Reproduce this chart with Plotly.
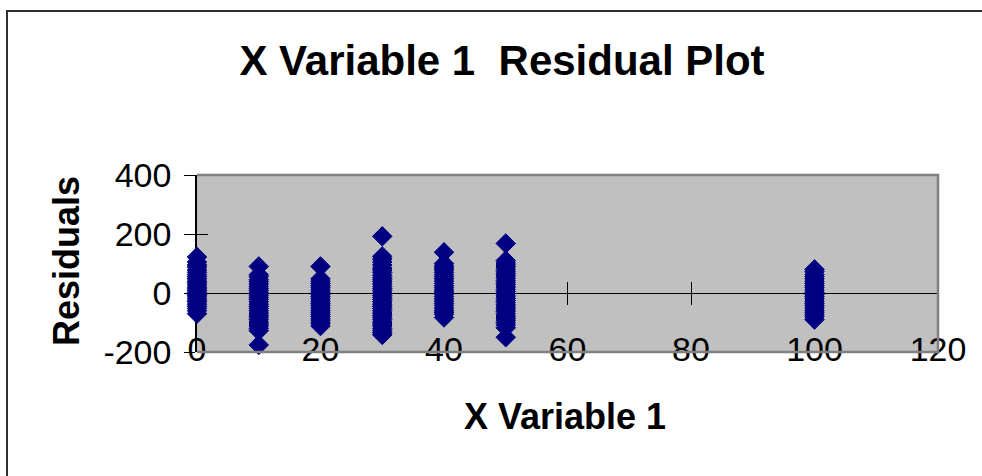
import plotly.graph_objects as go

# ---- data ----
x_levels = [0, 10, 20, 30, 40, 50, 100]
res_0 = [122, 105, 95, 88, 78, 70, 62, 55, 48, 40, 35, 28, 20, 14, 8, 2, -5, -10, -18, -25, -30, -38, -45, -52, -60, -70]
res_10 = [90, 62, 55, 45, 38, 30, 22, 15, 8, 0, -8, -15, -22, -30, -38, -45, -52, -60, -68, -75, -82, -90, -98, -105, -112, -120, -128, -176]
res_20 = [90, 48, 40, 32, 25, 18, 10, 3, -5, -12, -20, -28, -35, -42, -50, -58, -65, -72, -80, -88, -95, -103, -112]
res_30 = [192, 124, 115, 105, 95, 85, 78, 70, 60, 52, 45, 38, 30, 22, 15, 8, 0, -8, -15, -22, -30, -38, -45, -52, -60, -68, -75, -82, -90, -98, -105, -112, -120, -128, -135, -142]
res_40 = [138, 100, 92, 85, 78, 70, 62, 55, 48, 40, 32, 25, 18, 10, 3, -5, -12, -20, -28, -35, -42, -50, -58, -65, -72, -83]
res_50 = [168, 110, 102, 95, 88, 80, 72, 65, 58, 50, 42, 35, 28, 20, 12, 5, -2, -10, -18, -25, -32, -40, -48, -55, -62, -70, -78, -85, -92, -100, -108, -118, -150]
res_100 = [80, 72, 62, 55, 48, 40, 32, 25, 18, 10, 2, -5, -12, -20, -28, -35, -42, -50, -58, -65, -72, -80, -90]
residual_groups = [res_0, res_10, res_20, res_30, res_40, res_50, res_100]

x_ticks = [0, 20, 40, 60, 80, 100, 120]
x_tick_text = ["0", "20", "40", "60", "80", "100", "120"]
y_ticks = [-200, 0, 200, 400]
y_tick_text = ["-200", "0", "200", "400"]

xs, ys = [], []
for xv, grp in zip(x_levels, residual_groups):
    xs += [xv] * len(grp)
    ys += grp

FONT = "Arial, Liberation Sans, sans-serif"
W, H = 982, 476
ML, MR, MT, MB = 197, 44, 175, 124
PW, PH = W - ML - MR, H - MT - MB

fig = go.Figure()
fig.add_trace(go.Scatter(
    x=xs, y=ys, mode="markers",
    marker=dict(symbol="diamond", size=15, color="#000080", line=dict(width=1, color="#000080")),
    cliponaxis=False, showlegend=False, hoverinfo="x+y",
))

tickfont = dict(family=FONT, size=34, color="black")
common_x = dict(range=[0, 120], tickvals=x_ticks, ticktext=x_tick_text, showgrid=False, zeroline=False)

fig.update_layout(
    width=W, height=H,
    margin=dict(l=ML, r=MR, t=MT, b=MB, pad=0),
    paper_bgcolor="white", plot_bgcolor="#C0C0C0",
    showlegend=False,
    xaxis=dict(**common_x, ticks="", showline=False, tickfont=tickfont,
               ticklabelstandoff=-26, layer="below traces"),
    xaxis2=dict(**common_x, overlaying="x", matches="x", anchor="free", position=1/3,
                ticks="outside", ticklen=11, tickcolor="black", tickwidth=1,
                showline=True, linecolor="black", linewidth=1,
                showticklabels=False, layer="below traces"),
    xaxis3=dict(**common_x, overlaying="x", matches="x", anchor="free", position=1/3,
                ticks="inside", ticklen=11, tickcolor="black", tickwidth=1,
                showline=False, showticklabels=False, layer="below traces"),
    yaxis=dict(range=[-200, 400], tickvals=y_ticks, ticktext=y_tick_text,
               showgrid=False, zeroline=False,
               ticks="outside", ticklen=11, tickcolor="black", tickwidth=1,
               showline=True, linecolor="black", linewidth=1.5,
               tickfont=tickfont, ticklabelstandoff=6, layer="below traces"),
    yaxis2=dict(range=[-200, 400], tickvals=y_ticks, overlaying="y", matches="y",
                anchor="x", side="left", showgrid=False, zeroline=False,
                ticks="inside", ticklen=11, tickcolor="black", tickwidth=1,
                showline=False, showticklabels=False, layer="below traces"),
    title=dict(text="X Variable 1\u00a0 Residual Plot",
               font=dict(family=FONT, size=42, color="black", weight="bold"),
               xref="container", yref="container", x=502 / W, xanchor="center",
               y=1 - 60 / H, yanchor="middle"),
)

# dummy traces to activate overlay axes
fig.add_trace(go.Scatter(x=[None], y=[None], xaxis="x2", yaxis="y", showlegend=False, hoverinfo="skip"))
fig.add_trace(go.Scatter(x=[None], y=[None], xaxis="x3", yaxis="y", showlegend=False, hoverinfo="skip"))
fig.add_trace(go.Scatter(x=[None], y=[None], xaxis="x", yaxis="y2", showlegend=False, hoverinfo="skip"))

# axis titles
fig.add_annotation(text="<b>X Variable 1</b>", xref="paper", yref="paper",
                   x=(565 - ML) / PW, y=(MT + PH - 416) / PH, xanchor="center", yanchor="middle",
                   showarrow=False, font=dict(family=FONT, size=36, color="black"))
fig.add_annotation(text="<b>Residuals</b>", xref="paper", yref="paper",
                   x=(66 - ML) / PW, y=(MT + PH - 261) / PH, xanchor="center", yanchor="middle",
                   textangle=-90, showarrow=False, font=dict(family=FONT, size=36, color="black"))

# plot-area border (top, right, bottom) in gray
fig.add_shape(type="path", xref="paper", yref="paper", path="M0,1 L1,1 L1,0 L0,0",
              line=dict(color="#808080", width=2.5), layer="above")
# outer chart frame
fig.add_shape(type="rect", xref="paper", yref="paper",
              x0=(7 - ML) / PW, x1=(1000 - ML) / PW,
              y0=(MT + PH - 500) / PH, y1=(MT + PH - 11) / PH,
              line=dict(color="#303030", width=2), fillcolor="rgba(0,0,0,0)", layer="above")

fig.write_html("out.html")
